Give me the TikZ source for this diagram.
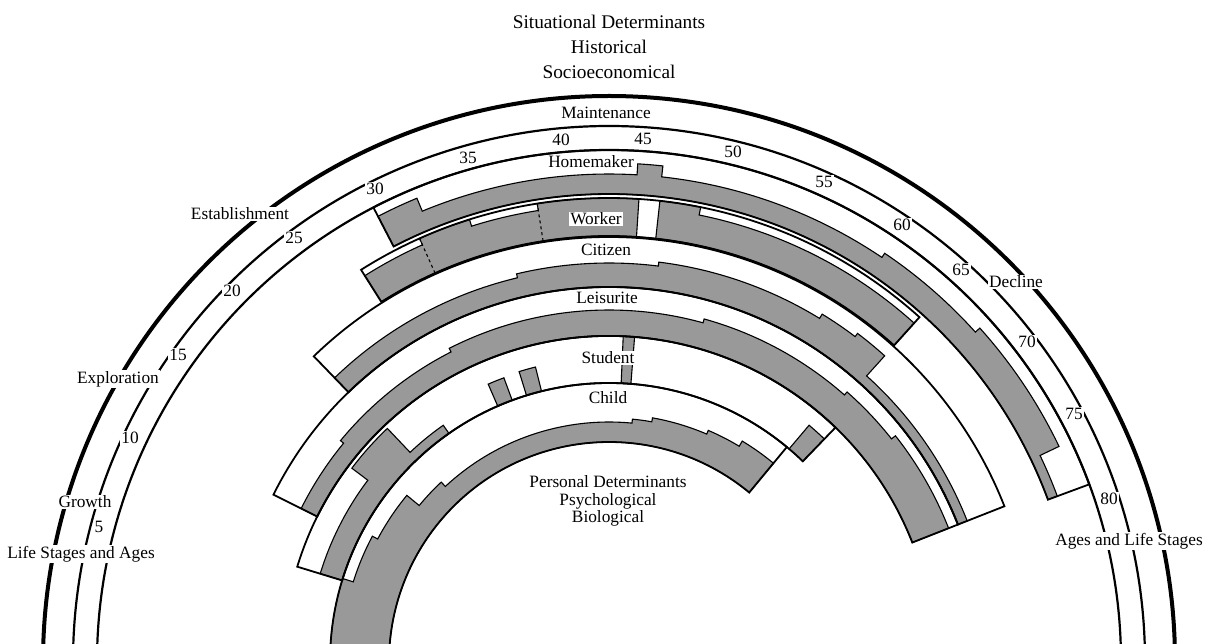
\documentclass[tikz,border=0pt]{standalone}
\usepackage{fontspec}
\setmainfont{Liberation Serif}
\definecolor{screen}{gray}{0.6}
% annular sector: start angle, end angle, inner radius, outer radius
\newcommand\annsec[4]{(#1:#4pt) arc[start angle=#1,end angle=#2,radius=#4pt] -- (#2:#3pt) arc[start angle=#2,end angle=#1,radius=#3pt] -- cycle}
% stepped screen: inner radius, first angle, last angle, list of from/to/top
\newcommand\stepfill[4]{%
  \filldraw[screenfill] (#2:#1pt) \foreach \aa/\ab/\hh in {#4} { -- (\aa:\hh pt) arc[start angle=\aa,end angle=\ab,radius=\hh pt] } -- (#3:#1pt) arc[start angle=#3,end angle=#2,radius=#1pt] -- cycle;}
\begin{document}
\begin{tikzpicture}[x=1pt,y=1pt,
  bandline/.style={line width=1.8pt},
  screenfill/.style={fill=screen,draw=black,line width=1.1pt},
  lab/.style={font=\fontsize{17.3}{19}\selectfont,inner sep=1pt},
  cut/.style={lab,fill=white},
  ttl/.style={font=\fontsize{19.3}{21}\selectfont,inner sep=1pt}]
\useasboundingbox (0,0) rectangle (1212,643);
\coordinate (ctr) at (609,-19);
\begin{scope}
\clip (0,0) rectangle (1212,643);
\begin{scope}[shift={(ctr)}]
  % ---- screened time shares of each role ----
  % Homemaker
  \stepfill{468}{117.4}{20.3}{117.4/112.5/502, 112.5/86.7/488, 86.7/83.8/499, 83.8/56/488, 56/42/493, 42/25.6/499, 25.6/20.3/478}
  % Worker
  \stepfill{426}{122.3}{48}{122.3/114.1/457, 114.1/107.5/464, 107.5/98.9/457, 98.9/86.3/464, 86.3/83.7/426, 83.7/78.6/464, 78.6/48/456}
  % Citizen
  \stepfill{375}{134}{21.5}{134/103.4/395, 103.4/82.9/399, 82.9/58.5/403, 58.5/52.9/408, 52.9/48/412, 48/21.5/385}
  % Leisurite
  \stepfill{326}{153.5}{21.5}{153.5/140.5/344, 140.5/117/348, 117/74.5/352, 74.5/48.6/356, 48.6/38.3/360, 38.3/21.5/365}
  % Student
  \stepfill{279}{163}{125}{163/143/302, 143/133.5/322, 133.5/125/289}
  \filldraw[screenfill] \annsec{113.5}{110.3}{279}{303};
  \filldraw[screenfill] \annsec{107.2}{104.0}{279}{304};
  \filldraw[screenfill] \annsec{87.5}{85.5}{279}{326};
  \filldraw[screenfill] \annsec{49.8}{46}{279}{310};
  % Child
  \stepfill{220}{181}{50.4}{181/162.6/279, 162.6/152/268, 152/140.5/262, 140.5/133/246, 133/84.5/240, 84.5/79.9/244, 79.9/66.8/248, 66.8/58.9/252, 58.9/50.4/258}
  % dashed divisions in the worker band
  \draw[line width=1.1pt,dashed] (114.1:426pt) -- (114.1:464pt);
  \draw[line width=1.1pt,dashed] (98.9:426pt) -- (98.9:464pt);
  % ---- role bands ----
  \draw[bandline] \annsec{117.4}{20.3}{468}{512};
  \draw[bandline] \annsec{122.3}{48}{426}{464};
  \draw[bandline] \annsec{134}{21.5}{375}{425};
  \draw[bandline] \annsec{153.5}{21.5}{326}{375};
  \draw[bandline] \annsec{163}{46}{279}{326};
  \draw[bandline] \annsec{181}{50.4}{220}{279};
  % ---- life stage and age rings ----
  \draw[line width=4pt] (-2:566pt) arc[start angle=-2,end angle=182,radius=566pt];
  \draw[line width=2.2pt] (-2:536pt) arc[start angle=-2,end angle=182,radius=536pt];
  \draw[line width=2.2pt] (-2:512pt) arc[start angle=-2,end angle=182,radius=512pt];
\end{scope}
\end{scope}
% ---- titles ----
\node[ttl] (sit) at (609,621) {Situational Determinants};
\node[ttl] (his) at (609,596) {Historical};
\node[ttl] (soc) at (609,571) {Socioeconomical};
\node[lab] (per) at (608,161) {Personal Determinants};
\node[lab] (psy) at (608,142) {Psychological};
\node[lab] (bio) at (608,125) {Biological};
% ---- life stages ----
\node[cut] (maint) at (606,530) {Maintenance};
\node[cut] (estab) at (240,429) {Establishment};
\node[cut] (explo) at (118,264) {Exploration};
\node[cut] (grow) at (85,141) {Growth};
\node[cut] (lsa) at (81,89) {Life Stages and Ages};
\node[cut] (decl) at (1016,361) {Decline};
\node[cut] (als) at (1129,102) {Ages and Life Stages};
% ---- ages ----
\node[cut] (a5) at (99,116) {5};
\node[cut] (a10) at (130,205) {10};
\node[cut] (a15) at (178,288) {15};
\node[cut] (a20) at (232,352) {20};
\node[cut] (a25) at (294,405) {25};
\node[cut] (a30) at (375,454) {30};
\node[cut] (a35) at (468,485) {35};
\node[cut] (a40) at (561,503) {40};
\node[cut] (a45) at (643,504) {45};
\node[cut] (a50) at (733,491) {50};
\node[cut] (a55) at (824,461) {55};
\node[cut] (a60) at (902,418) {60};
\node[cut] (a65) at (961,373) {65};
\node[cut] (a70) at (1027,301) {70};
\node[cut] (a75) at (1074,229) {75};
\node[cut] (a80) at (1109,144) {80};
% ---- roles ----
\node[cut] (home) at (591,481) {Homemaker};
\node[cut] (work) at (596,424) {Worker};
\node[cut] (citi) at (606,393) {Citizen};
\node[cut] (leis) at (607,345) {Leisurite};
\node[cut] (stud) at (608,285) {Student};
\node[cut] (chil) at (608,245) {Child};
\end{tikzpicture}
\end{document}
